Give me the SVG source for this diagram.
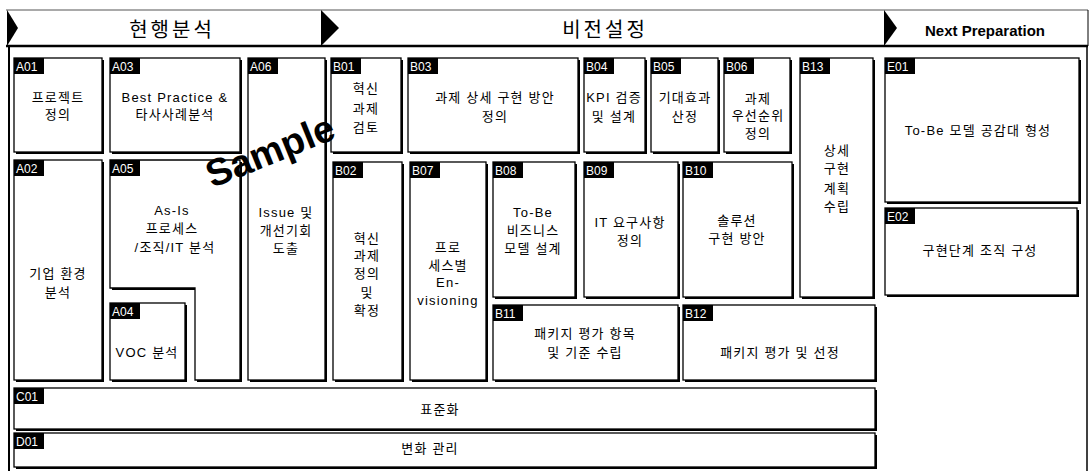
<svg xmlns="http://www.w3.org/2000/svg" width="1091" height="471" viewBox="0 0 1091 471">
<style>
.bx{fill:#fff;stroke:#000;stroke-width:1.3}
.sh{fill:#000}
.tg{fill:#000}
.tt{fill:#fff;font-family:'Liberation Sans','Noto Sans CJK KR',sans-serif;font-size:12px}
.t{fill:#000;font-family:'Liberation Sans','Noto Sans CJK KR',sans-serif;font-size:13px;text-anchor:middle;dominant-baseline:central;letter-spacing:1.2px}
.hd{fill:#000;font-family:'Noto Sans CJK KR','Liberation Sans',sans-serif;font-size:20px;text-anchor:middle;dominant-baseline:central;letter-spacing:3px}
</style>
<rect width="1091" height="471" fill="#fff"/>
<g id="header">
<line x1="6" y1="10" x2="1088" y2="10" stroke="#555" stroke-width="1"/>
<line x1="6" y1="46" x2="1088" y2="46" stroke="#000" stroke-width="2.5"/>
<polygon points="7,10 18,28 7,46" fill="#000"/>
<polygon points="321,10 339,28 321,46" fill="#000"/>
<polygon points="884,10 897,28 884,46" fill="#000"/>
<line x1="1088" y1="10" x2="1088" y2="46" stroke="#000" stroke-width="1"/>
<text class="hd" x="172" y="28">현행분석</text>
<text class="hd" x="605" y="28">비전설정</text>
<text x="985" y="30" text-anchor="middle" dominant-baseline="central" font-family="'Liberation Sans',sans-serif" font-size="15" font-weight="bold">Next Preparation</text>
</g>
<g id="frame">
<line x1="9" y1="46" x2="9" y2="471" stroke="#000" stroke-width="2"/>
<line x1="1087" y1="46" x2="1087" y2="471" stroke="#000" stroke-width="1.5"/>
</g>
<g id="connectors"></g>

<g id="A01"><rect class="sh" x="16" y="60" width="88" height="94"/><rect class="bx" x="14" y="58" width="88" height="94"/><rect class="tg" x="14" y="58" width="30" height="16"/><text class="tt" x="16" y="71">A01</text><text class="t" x="58" y="97">프로젝트</text><text class="t" x="58" y="114">정의</text></g>
<g id="A03"><rect class="sh" x="112" y="60" width="130" height="94"/><rect class="bx" x="110" y="58" width="130" height="94"/><rect class="tg" x="110" y="58" width="30" height="16"/><text class="tt" x="112" y="71">A03</text><text class="t" x="175" y="97">Best Practice &amp;</text><text class="t" x="175" y="114">타사사례분석</text></g>
<g id="A06"><rect class="sh" x="250" y="60" width="77" height="322"/><rect class="bx" x="248" y="58" width="77" height="322"/><rect class="tg" x="248" y="58" width="30" height="16"/><text class="tt" x="250" y="71">A06</text><text class="t" x="286" y="212">Issue 및</text><text class="t" x="286" y="230">개선기회</text><text class="t" x="286" y="248">도출</text></g>
<g id="A02"><rect class="sh" x="16" y="162" width="88" height="220"/><rect class="bx" x="14" y="160" width="88" height="220"/><rect class="tg" x="14" y="160" width="30" height="16"/><text class="tt" x="16" y="173">A02</text><text class="t" x="58" y="273">기업 환경</text><text class="t" x="58" y="292">분석</text></g>
<g id="A05"><path class="sh" d="M112,162 H242 V382 H197 V290 H112 Z"/><path class="bx" d="M110,160 H240 V380 H195 V288 H110 Z"/><rect class="tg" x="110" y="160" width="30" height="16"/><text class="tt" x="112" y="173">A05</text><text class="t" x="172" y="210">As-Is</text><text class="t" x="172" y="228">프로세스</text><text class="t" x="175" y="247">/조직/IT 분석</text></g>
<g id="A04"><rect class="sh" x="112" y="305" width="75" height="77"/><rect class="bx" x="110" y="303" width="75" height="77"/><rect class="tg" x="110" y="303" width="30" height="16"/><text class="tt" x="112" y="316">A04</text><text class="t" x="147" y="352">VOC 분석</text></g>

<g id="B01"><rect class="sh" x="333" y="60" width="70" height="94"/><rect class="bx" x="331" y="58" width="70" height="94"/><rect class="tg" x="331" y="58" width="30" height="16"/><text class="tt" x="333" y="71">B01</text><text class="t" x="366" y="88">혁신</text><text class="t" x="366" y="108">과제</text><text class="t" x="366" y="127">검토</text></g>
<g id="B03"><rect class="sh" x="410" y="60" width="170" height="94"/><rect class="bx" x="408" y="58" width="170" height="94"/><rect class="tg" x="408" y="58" width="30" height="16"/><text class="tt" x="410" y="71">B03</text><text class="t" x="495" y="97">과제 상세 구현 방안</text><text class="t" x="495" y="116">정의</text></g>
<g id="B04"><rect class="sh" x="586" y="60" width="61" height="94"/><rect class="bx" x="584" y="58" width="61" height="94"/><rect class="tg" x="584" y="58" width="30" height="16"/><text class="tt" x="586" y="71">B04</text><text class="t" x="614" y="97">KPI 검증</text><text class="t" x="614" y="116">및 설계</text></g>
<g id="B05"><rect class="sh" x="653" y="60" width="67" height="94"/><rect class="bx" x="651" y="58" width="67" height="94"/><rect class="tg" x="651" y="58" width="30" height="16"/><text class="tt" x="653" y="71">B05</text><text class="t" x="685" y="97">기대효과</text><text class="t" x="685" y="116">산정</text></g>
<g id="B06"><rect class="sh" x="726" y="60" width="66" height="94"/><rect class="bx" x="724" y="58" width="66" height="94"/><rect class="tg" x="724" y="58" width="30" height="16"/><text class="tt" x="726" y="71">B06</text><text class="t" x="758" y="98">과제</text><text class="t" x="758" y="115">우선순위</text><text class="t" x="758" y="133">정의</text></g>
<g id="B13"><rect class="sh" x="802" y="60" width="73" height="239"/><rect class="bx" x="800" y="58" width="73" height="239"/><rect class="tg" x="800" y="58" width="30" height="16"/><text class="tt" x="802" y="71">B13</text><text class="t" x="837" y="150">상세</text><text class="t" x="837" y="168">구현</text><text class="t" x="837" y="188">계획</text><text class="t" x="837" y="206">수립</text></g>
<g id="B02"><rect class="sh" x="335" y="164" width="69" height="218"/><rect class="bx" x="333" y="162" width="69" height="218"/><rect class="tg" x="333" y="162" width="30" height="16"/><text class="tt" x="335" y="175">B02</text><text class="t" x="367" y="238">혁신</text><text class="t" x="367" y="255">과제</text><text class="t" x="367" y="273">정의</text><text class="t" x="367" y="292">및</text><text class="t" x="367" y="310">확정</text></g>
<g id="B07"><rect class="sh" x="412" y="164" width="76" height="218"/><rect class="bx" x="410" y="162" width="76" height="218"/><rect class="tg" x="410" y="162" width="30" height="16"/><text class="tt" x="412" y="175">B07</text><text class="t" x="448" y="247">프로</text><text class="t" x="448" y="265">세스별</text><text class="t" x="448" y="282">En-</text><text class="t" x="448" y="300">visioning</text></g>
<g id="B08"><rect class="sh" x="495" y="164" width="82" height="135"/><rect class="bx" x="493" y="162" width="82" height="135"/><rect class="tg" x="493" y="162" width="30" height="16"/><text class="tt" x="495" y="175">B08</text><text class="t" x="533" y="212">To-Be</text><text class="t" x="533" y="230">비즈니스</text><text class="t" x="533" y="248">모델 설계</text></g>
<g id="B09"><rect class="sh" x="586" y="164" width="94" height="135"/><rect class="bx" x="584" y="162" width="94" height="135"/><rect class="tg" x="584" y="162" width="30" height="16"/><text class="tt" x="586" y="175">B09</text><text class="t" x="630" y="222">IT 요구사항</text><text class="t" x="630" y="240">정의</text></g>
<g id="B10"><rect class="sh" x="685" y="164" width="109" height="135"/><rect class="bx" x="683" y="162" width="109" height="135"/><rect class="tg" x="683" y="162" width="30" height="16"/><text class="tt" x="685" y="175">B10</text><text class="t" x="737" y="220">솔루션</text><text class="t" x="737" y="238">구현 방안</text></g>
<g id="B11"><rect class="sh" x="495" y="307" width="185" height="75"/><rect class="bx" x="493" y="305" width="185" height="75"/><rect class="tg" x="493" y="305" width="30" height="16"/><text class="tt" x="495" y="318">B11</text><text class="t" x="585" y="333">패키지 평가 항목</text><text class="t" x="585" y="352">및 기준 수립</text></g>
<g id="B12"><rect class="sh" x="685" y="307" width="192" height="75"/><rect class="bx" x="683" y="305" width="192" height="75"/><rect class="tg" x="683" y="305" width="30" height="16"/><text class="tt" x="685" y="318">B12</text><text class="t" x="780" y="352">패키지 평가 및 선정</text></g>

<g id="E01"><rect class="sh" x="887" y="60" width="194" height="144"/><rect class="bx" x="885" y="58" width="194" height="144"/><rect class="tg" x="885" y="58" width="30" height="16"/><text class="tt" x="887" y="71">E01</text><text class="t" x="978" y="130">To-Be 모델 공감대 형성</text></g>
<g id="E02"><rect class="sh" x="887" y="210" width="192" height="87"/><rect class="bx" x="885" y="208" width="192" height="87"/><rect class="tg" x="885" y="208" width="30" height="16"/><text class="tt" x="887" y="221">E02</text><text class="t" x="980" y="250">구현단계 조직 구성</text></g>

<g id="C01"><rect class="sh" x="16" y="390" width="861" height="41"/><rect class="bx" x="14" y="388" width="861" height="41"/><rect class="tg" x="14" y="388" width="30" height="16"/><text class="tt" x="16" y="401">C01</text><text class="t" x="440" y="409">표준화</text></g>
<g id="D01"><rect class="sh" x="16" y="435" width="861" height="34"/><rect class="bx" x="14" y="433" width="861" height="34"/><rect class="tg" x="14" y="433" width="30" height="16"/><text class="tt" x="16" y="446">D01</text><text class="t" x="430" y="448">변화 관리</text></g>

<text x="270" y="151" text-anchor="middle" dominant-baseline="central" font-family="'Liberation Sans',sans-serif" font-size="38" font-weight="bold" transform="rotate(-22 270 151)">Sample</text>
</svg>
